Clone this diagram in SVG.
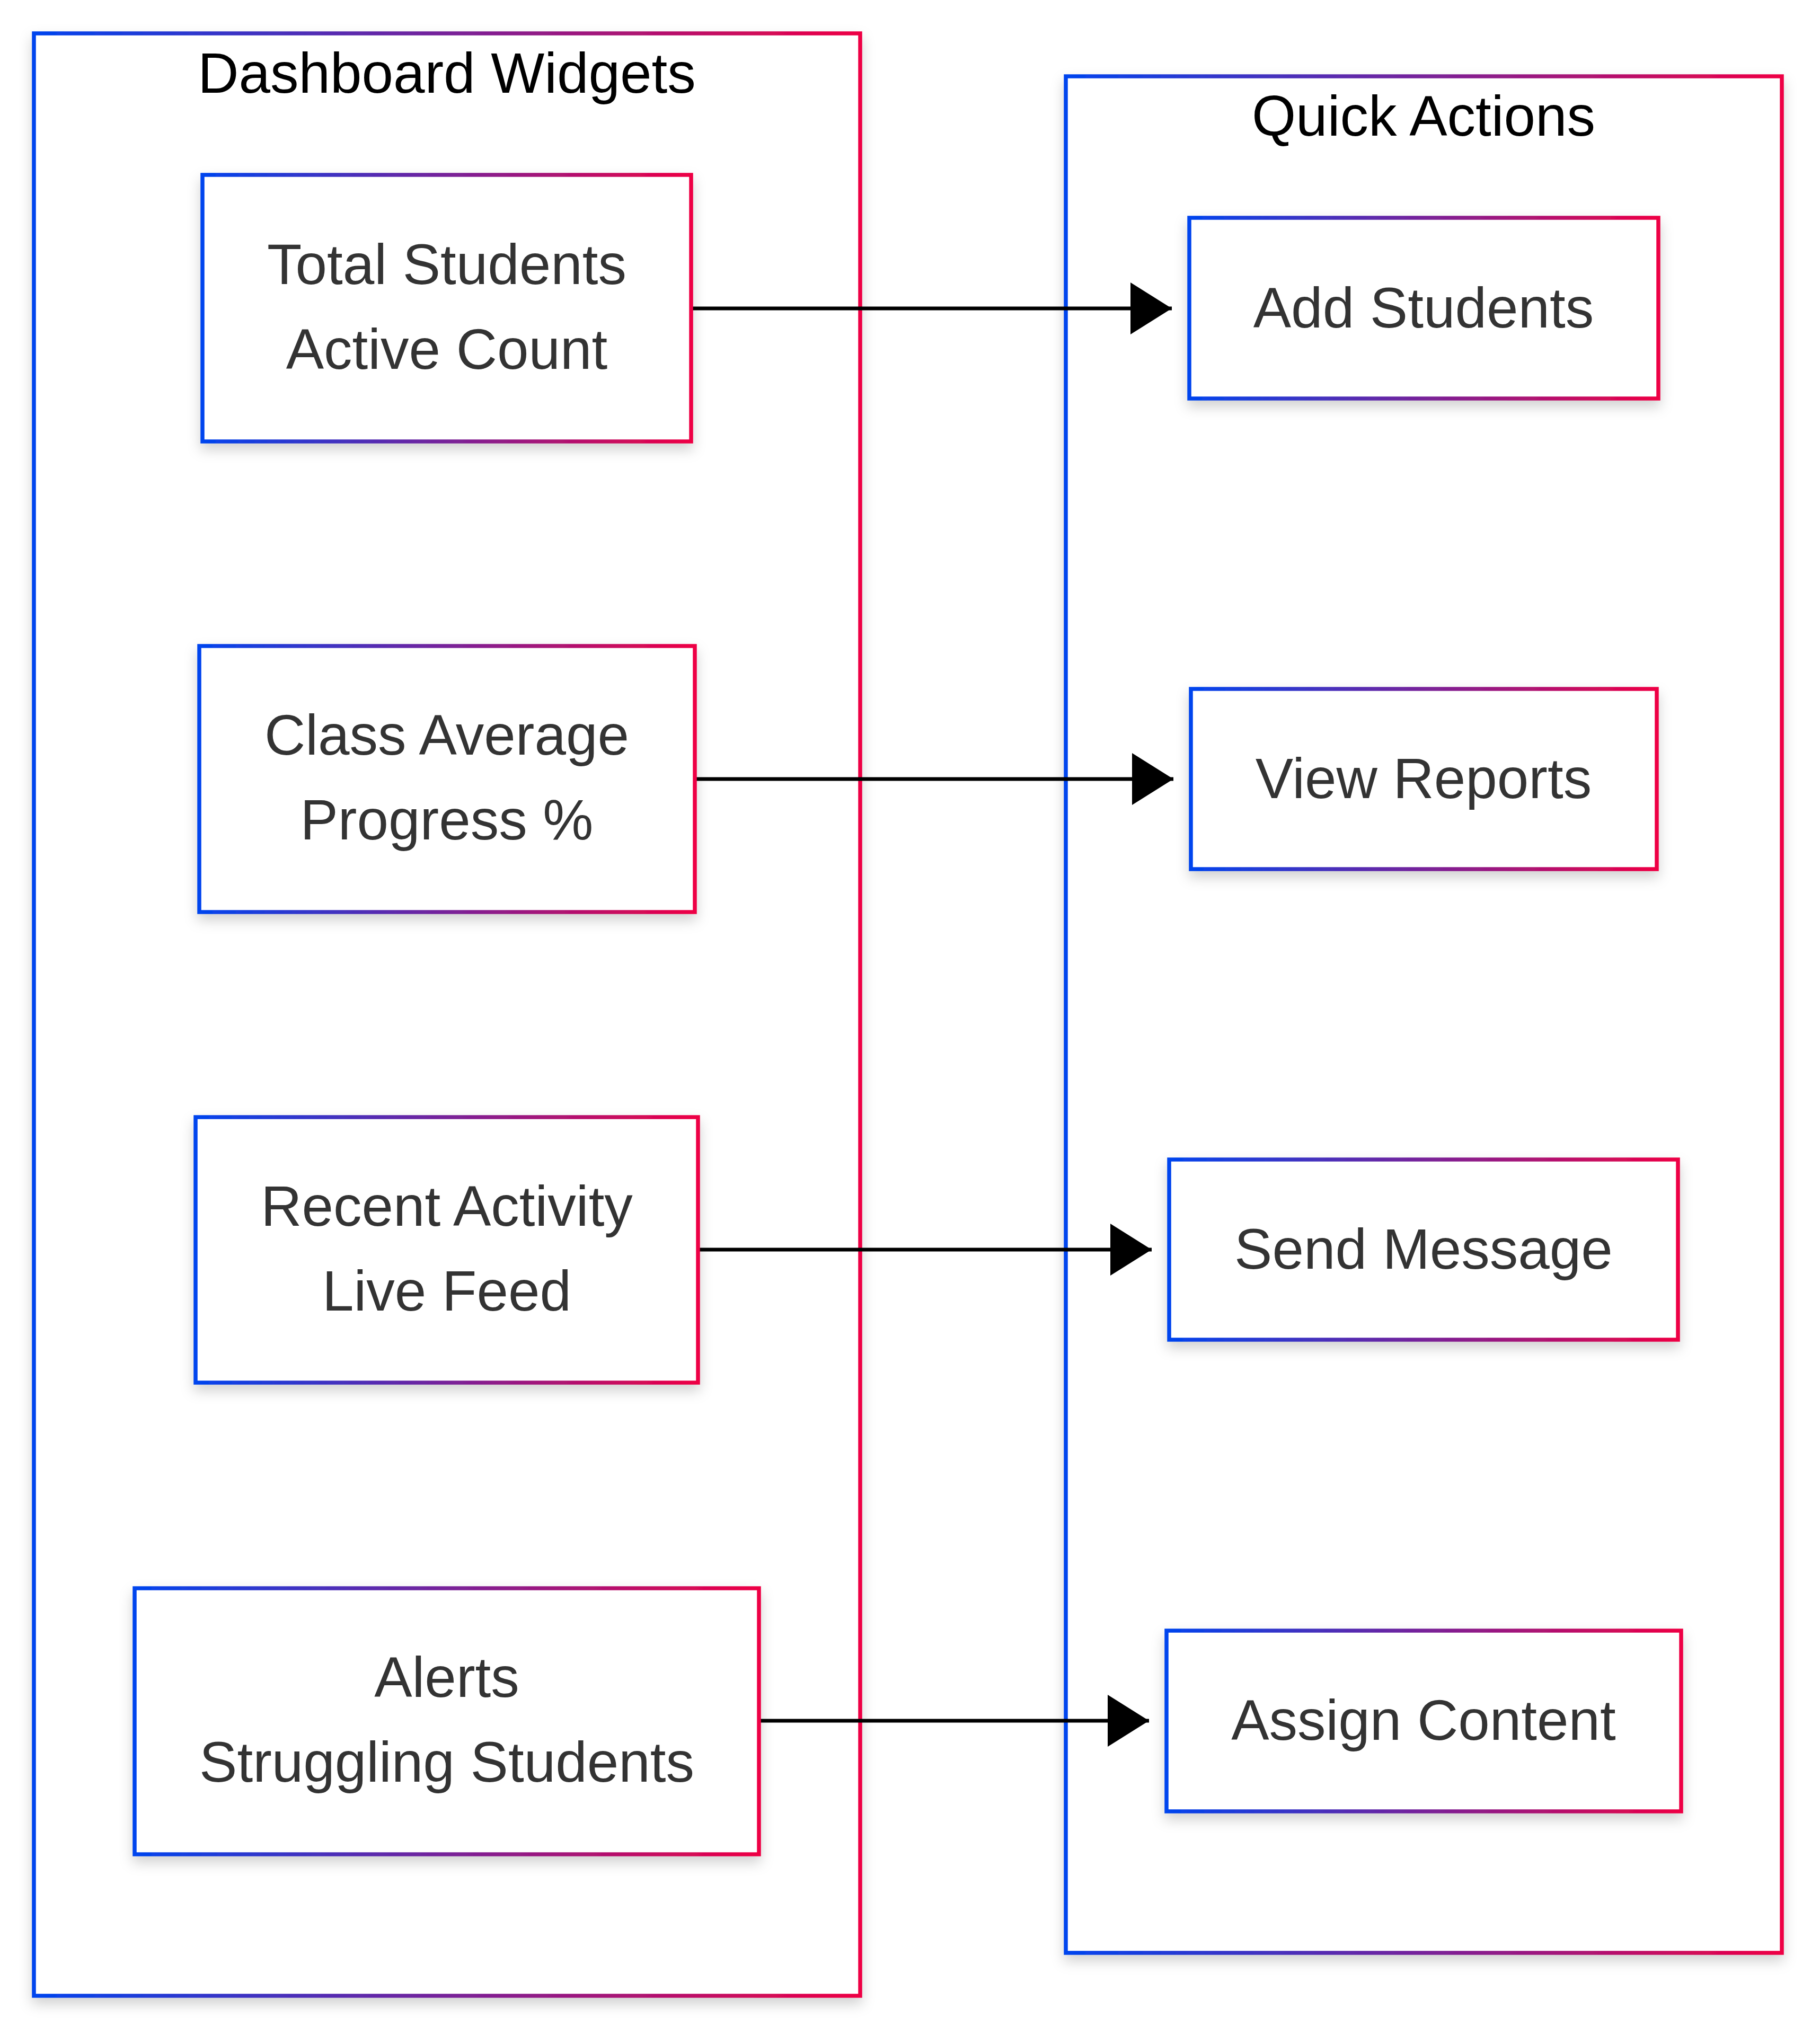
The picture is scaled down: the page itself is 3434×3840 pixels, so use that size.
<svg xmlns="http://www.w3.org/2000/svg" width="3434" height="3840" viewBox="0 0 3434 3840">
  <style>
    .box { fill: #ffffff; stroke: url(#grad); stroke-width: 7.5; filter: url(#shadow); }
    .title { font-family: "Liberation Sans", Arial, sans-serif; font-size: 107px; fill: #000000; text-anchor: middle; }
    .label { font-family: "Liberation Sans", Arial, sans-serif; font-size: 107px; fill: #333333; text-anchor: middle; }
    .edge { fill: none; stroke: #000000; stroke-width: 7; marker-end: url(#arrow); }
  </style>
  <defs>
    <linearGradient id="grad" x1="0" y1="0" x2="1" y2="0">
      <stop offset="0" stop-color="#0044EE"/>
      <stop offset="1" stop-color="#EE0044"/>
    </linearGradient>
    <filter id="shadow" x="-10%" y="-10%" width="120%" height="130%">
      <feDropShadow dx="0" dy="12" stdDeviation="12" flood-color="#000000" flood-opacity="0.18"/>
    </filter>
    <marker id="arrow" viewBox="0 0 78 98" refX="78" refY="49" markerWidth="78" markerHeight="98" markerUnits="userSpaceOnUse" orient="auto">
      <path d="M0,0 L78,49 L0,98 z" fill="#000000"/>
    </marker>
  </defs>
  <rect width="3434" height="3840" fill="#ffffff"/>

  <g id="cluster-dashboard">
    <rect class="box" x="64" y="63" width="1559" height="3703"/>
    <text class="title" x="843" y="175">Dashboard Widgets</text>
  </g>
  <g id="cluster-quick">
    <rect class="box" x="2011" y="144" width="1351" height="3541"/>
    <text class="title" x="2686" y="256">Quick Actions</text>
  </g>

  <g id="connectors">
    <path class="edge" d="M1306,582 L2211,582"/>
    <path class="edge" d="M1313,1470 L2214,1470"/>
    <path class="edge" d="M1319,2358 L2173,2358"/>
    <path class="edge" d="M1434,3247 L2168,3247"/>
  </g>

  <g id="node-total">
    <rect class="box" x="382" y="330" width="922" height="503"/>
    <text class="label" x="843" y="536">Total Students</text>
    <text class="label" x="843" y="696">Active Count</text>
  </g>
  <g id="node-class">
    <rect class="box" x="376" y="1219" width="935" height="502"/>
    <text class="label" x="843" y="1424">Class Average</text>
    <text class="label" x="843" y="1584">Progress %</text>
  </g>
  <g id="node-recent">
    <rect class="box" x="369" y="2108" width="948" height="501"/>
    <text class="label" x="843" y="2313">Recent Activity</text>
    <text class="label" x="843" y="2473">Live Feed</text>
  </g>
  <g id="node-alerts">
    <rect class="box" x="254" y="2997" width="1178" height="502"/>
    <text class="label" x="843" y="3202">Alerts</text>
    <text class="label" x="843" y="3362">Struggling Students</text>
  </g>

  <g id="node-add">
    <rect class="box" x="2244" y="411" width="885" height="341"/>
    <text class="label" x="2686" y="618">Add Students</text>
  </g>
  <g id="node-view">
    <rect class="box" x="2247" y="1300" width="879" height="340"/>
    <text class="label" x="2686" y="1506">View Reports</text>
  </g>
  <g id="node-send">
    <rect class="box" x="2206" y="2188" width="960" height="340"/>
    <text class="label" x="2686" y="2394">Send Message</text>
  </g>
  <g id="node-assign">
    <rect class="box" x="2201" y="3077" width="971" height="341"/>
    <text class="label" x="2686" y="3283">Assign Content</text>
  </g>
</svg>
